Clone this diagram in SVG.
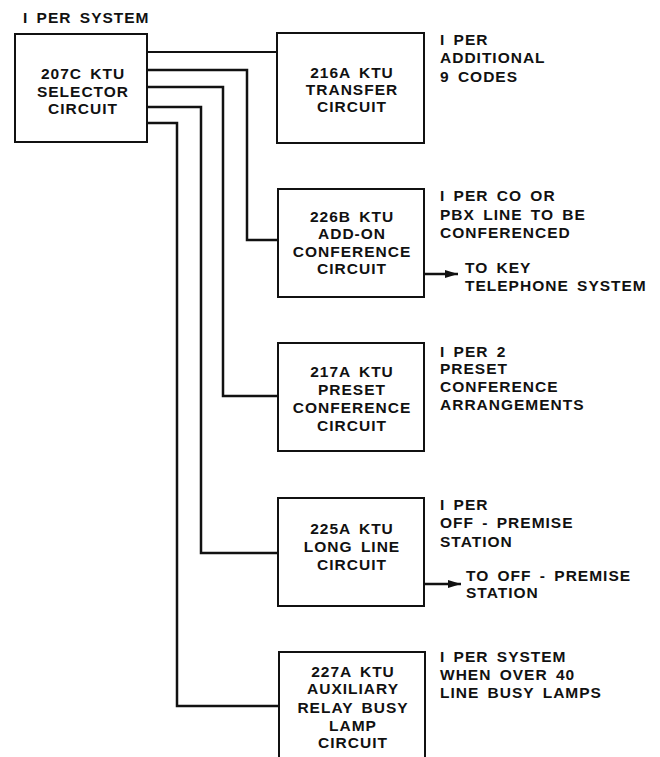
<svg xmlns="http://www.w3.org/2000/svg" width="660" height="757" viewBox="0 0 660 757">
<style>
text{font-family:"Liberation Sans",Arial,sans-serif;font-weight:bold;font-size:15.5px;letter-spacing:1px;word-spacing:3px;fill:#111}
.c{text-anchor:middle}
.box{fill:none;stroke:#111;stroke-width:2}
.wire{fill:none;stroke:#111;stroke-width:2.5}
.thin{fill:none;stroke:#111;stroke-width:1.8}
</style>
<defs>
<marker id="ah" markerUnits="userSpaceOnUse" markerWidth="14" markerHeight="10" refX="13" refY="5" orient="auto">
<path d="M0,1 L13,5 L0,9 Z" fill="#111"/>
</marker>
</defs>
<rect width="660" height="757" fill="#fff"/>
<g id="connectors">
<path class="thin" d="M147,52 H277"/>
<path class="wire" d="M147,70 H247 V240 H278"/>
<path class="wire" d="M147,87 H223 V396 H278"/>
<path class="wire" d="M147,107 H201 V553 H278"/>
<path class="wire" d="M147,123 H177 V706 H279"/>
<path class="wire" d="M424,274 H458" marker-end="url(#ah)"/>
<path class="wire" d="M424,584 H461" marker-end="url(#ah)"/>
</g>
<g id="selector">
<text x="23" y="23">I PER SYSTEM</text>
<rect class="box" x="15" y="34" width="132" height="108"/>
<text class="c" x="83" y="79">207C KTU</text>
<text class="c" x="83" y="97">SELECTOR</text>
<text class="c" x="83" y="114">CIRCUIT</text>
</g>
<g id="n216A">
<rect class="box" x="277" y="33" width="147" height="110"/>
<text class="c" x="352" y="78">216A KTU</text>
<text class="c" x="352" y="95">TRANSFER</text>
<text class="c" x="352" y="112">CIRCUIT</text>
<text x="440" y="45">I PER</text>
<text x="440" y="63">ADDITIONAL</text>
<text x="440" y="82">9 CODES</text>
</g>
<g id="n226B">
<rect class="box" x="278" y="189" width="146" height="108"/>
<text class="c" x="352" y="222">226B KTU</text>
<text class="c" x="352" y="239">ADD-ON</text>
<text class="c" x="352" y="257">CONFERENCE</text>
<text class="c" x="352" y="274">CIRCUIT</text>
<text x="440" y="201">I PER CO OR</text>
<text x="440" y="220">PBX LINE TO BE</text>
<text x="440" y="238">CONFERENCED</text>
<text x="465" y="273">TO KEY</text>
<text x="465" y="291">TELEPHONE SYSTEM</text>
</g>
<g id="n217A">
<rect class="box" x="278" y="343" width="146" height="108"/>
<text class="c" x="352" y="377">217A KTU</text>
<text class="c" x="352" y="395">PRESET</text>
<text class="c" x="352" y="413">CONFERENCE</text>
<text class="c" x="352" y="431">CIRCUIT</text>
<text x="440" y="357">I PER 2</text>
<text x="440" y="374">PRESET</text>
<text x="440" y="392">CONFERENCE</text>
<text x="440" y="410">ARRANGEMENTS</text>
</g>
<g id="n225A">
<rect class="box" x="278" y="498" width="146" height="108"/>
<text class="c" x="352" y="534">225A KTU</text>
<text class="c" x="352" y="552">LONG LINE</text>
<text class="c" x="352" y="570">CIRCUIT</text>
<text x="440" y="510">I PER</text>
<text x="440" y="528">OFF - PREMISE</text>
<text x="440" y="547">STATION</text>
<text x="466" y="581">TO OFF - PREMISE</text>
<text x="466" y="598">STATION</text>
</g>
<g id="n227A">
<rect class="box" x="279" y="652" width="146" height="120"/>
<text class="c" x="353" y="677">227A KTU</text>
<text class="c" x="353" y="694">AUXILIARY</text>
<text class="c" x="353" y="713">RELAY BUSY</text>
<text class="c" x="353" y="731">LAMP</text>
<text class="c" x="353" y="748">CIRCUIT</text>
<text x="440" y="662">I PER SYSTEM</text>
<text x="440" y="680">WHEN OVER 40</text>
<text x="440" y="698">LINE BUSY LAMPS</text>
</g>
</svg>
